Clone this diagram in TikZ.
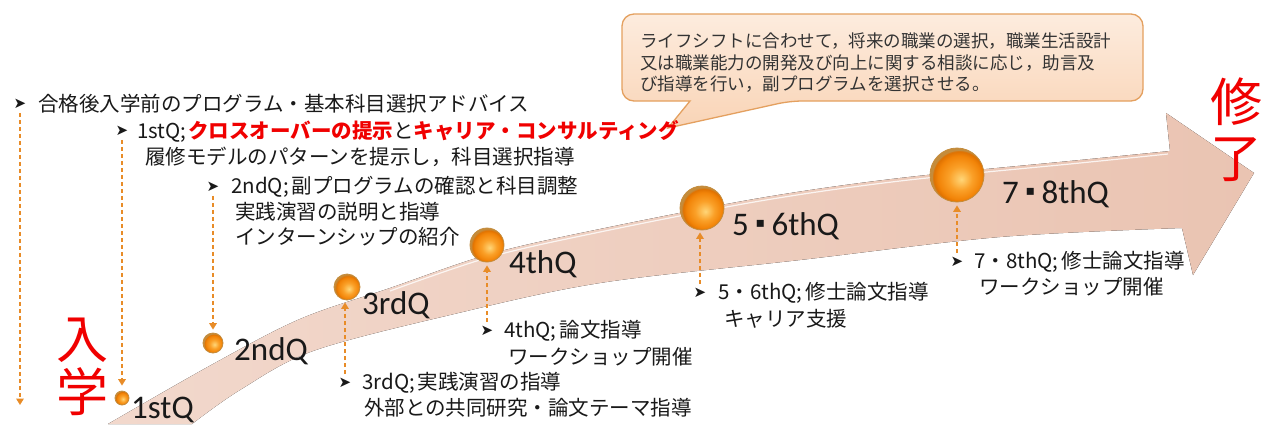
\documentclass[tikz,border=0pt]{standalone}
\usepackage{fontspec}
\setmainfont{Noto Sans CJK JP}
\newfontfamily\lat{Carlito}
\newfontfamily\sym{DejaVu Sans}
\usetikzlibrary{arrows.meta}
\definecolor{bandL}{RGB}{242,216,204}
\definecolor{bandR}{RGB}{234,196,178}
\definecolor{dorange}{RGB}{232,140,40}
\definecolor{orbHi}{RGB}{255,214,120}
\definecolor{orbMid}{RGB}{250,160,40}
\definecolor{orbMain}{RGB}{242,132,8}
\definecolor{orbEdge}{RGB}{222,112,0}
\definecolor{orbRim}{RGB}{196,140,60}
\definecolor{calfillT}{RGB}{253,236,222}
\definecolor{calfillB}{RGB}{249,212,182}
\definecolor{calborder}{RGB}{228,160,95}
\definecolor{txt}{RGB}{25,25,25}
\definecolor{jred}{RGB}{240,0,0}
\pgfdeclareradialshading{orb}{\pgfpoint{4bp}{-4bp}}{color(0bp)=(orbHi); color(11bp)=(orbMid); color(20bp)=(orbMain); color(24bp)=(orbEdge); color(25bp)=(orbRim); color(50bp)=(orbRim)}
\newcommand{\qdot}{\hspace{0.2em}\raisebox{0.22em}{\sym\fontsize{14}{14}\selectfont ▪}\hspace{0.2em}}
\begin{document}
\begin{tikzpicture}[x=1pt,y=-1pt,
  bul/.style={inner sep=0pt, font=\sym\fontsize{15}{15}\selectfont, text=txt},
  ln/.style={inner sep=0pt, anchor=west, font=\fontsize{20.5}{24}\selectfont, text=txt},
  qlab/.style={inner sep=0pt, anchor=base west, font=\lat\fontsize{33}{35}\selectfont, text=txt},
  ball/.style={circle, inner sep=0pt, shading=orb, draw=orbRim, line width=0.8pt},
  darr/.style={draw=dorange, line width=1.9pt, dash pattern=on 4.5pt off 2.5pt, -{Triangle[length=6.5pt,width=7.5pt]}},
  bigred/.style={inner sep=0pt, text=jred, font=\fontsize{52}{52}\selectfont},
  ctext/.style={inner sep=0pt, anchor=west, text=black!80, font=\fontsize{17.5}{20}\selectfont}
]
\useasboundingbox (0,0) rectangle (1264,424);
\fill[white] (0,0) rectangle (1264,424);

% big arrow band
\fill[left color=bandL, right color=bandR]
  plot[smooth,tension=0.55] coordinates {(108,424) (213,364) (300,319) (390,288) (490,254) (600,229) (760,198) (900,178) (1080,160) (1170,151)}
  -- (1166,113) -- (1254,173) -- (1193,275) -- (1182,228)
  -- plot[smooth,tension=0.55] coordinates {(1182,228) (1000,237) (800,260) (600,283) (450,315) (313,351) (240,390) (192,424)}
  -- cycle;
\draw[white, line width=1.2pt, opacity=0.8]
  plot[smooth,tension=0.55] coordinates {(390,291) (490,257) (600,232) (760,201) (900,181) (1080,163) (1168,154)};

% callout
\draw[draw=calborder, line width=1.3pt, top color=calfillT, bottom color=calfillB, rounded corners=12pt]
  (622,57) -- (622,14) -- (1143,14) -- (1143,101) -- (790,101) [sharp corners] -- (668,128) -- (690,101) [rounded corners=12pt] -- (622,101) -- cycle;
\node[ctext] (c1) at (640,41) {ライフシフトに合わせて，将来の職業の選択，職業生活設計};
\node[ctext] (c2) at (640,63) {又は職業能力の開発及び向上に関する相談に応じ，助言及};
\node[ctext] (c3) at (640,84) {び指導を行い，副プログラムを選択させる。};

% red labels
\node[bigred] (in1) at (82,340) {入};
\node[bigred] (in2) at (82,392) {学};
\node[bigred] (sh1) at (1236,102) {修};
\node[bigred] (sh2) at (1236,160) {了};

% balls
\node[ball, minimum size=14pt] (b1) at (122,398) {};
\node[ball, minimum size=20pt] (b2) at (213,343) {};
\node[ball, minimum size=26pt] (b3) at (347,287) {};
\node[ball, minimum size=34pt] (b4) at (487,245) {};
\node[ball, minimum size=44pt] (b5) at (702,208) {};
\node[ball, minimum size=54pt] (b6) at (957,175) {};

% quarter labels
\node[qlab] (q1) at (131,418) {1stQ};
\node[qlab] (q2) at (234,360) {2ndQ};
\node[qlab] (q3) at (362,314) {3rdQ};
\node[qlab] (q4) at (509,273) {4thQ};
\node[qlab] (q5) at (732,235) {5\qdot 6thQ};
\node[qlab] (q6) at (1002,203) {7\qdot 8thQ};

% text blocks
\node[bul] (u0) at (20,104) {➤};
\node[ln] (l0) at (38,104) {合格後入学前のプログラム・基本科目選択アドバイス};

\node[bul] (u1) at (122,131) {➤};
\node[ln] (l1a) at (137,131) {1stQ;\hspace{0.1em}{\color{jred}\bfseries クロスオーバーの提示}と{\color{jred}\bfseries キャリア・コンサルティング}};
\node[ln] (l1b) at (145,157) {履修モデルのパターンを提示し，科目選択指導};

\node[bul] (u2) at (213,187) {➤};
\node[ln] (l2a) at (231,187) {2ndQ;\hspace{0.15em}副プログラムの確認と科目調整};
\node[ln] (l2b) at (235,212) {実践演習の説明と指導};
\node[ln] (l2c) at (235,237) {インターンシップの紹介};

\node[bul] (u3) at (345,383) {➤};
\node[ln] (l3a) at (362,383) {3rdQ;\hspace{0.15em}実践演習の指導};
\node[ln] (l3b) at (364,408) {外部との共同研究・論文テーマ指導};

\node[bul] (u4) at (487,331) {➤};
\node[ln] (l4a) at (504,331) {4thQ;\hspace{0.15em}論文指導};
\node[ln] (l4b) at (508,357) {ワークショップ開催};

\node[bul] (u5) at (700,293) {➤};
\node[ln] (l5a) at (718,293) {5・6thQ;\hspace{0.15em}修士論文指導};
\node[ln] (l5b) at (724,319) {キャリア支援};

\node[bul] (u6) at (957,262) {➤};
\node[ln] (l6a) at (974,262) {7・8thQ;\hspace{0.15em}修士論文指導};
\node[ln] (l6b) at (979,287) {ワークショップ開催};

% dashed arrows
\coordinate (e0) at (20,405);
\draw[darr, shorten <=4pt] (u0.south) -- (e0);
\draw[darr, shorten <=4pt, shorten >=5pt] (u1.south) -- (b1.north);
\draw[darr, shorten <=4pt, shorten >=3pt] (u2.south) -- (b2.north);
\draw[darr, shorten <=4pt, shorten >=2pt] (u3.north) -- (u3.north |- b3.south);
\draw[darr, shorten <=4pt, shorten >=3pt] (u4.north) -- (u4.north |- b4.south);
\draw[darr, shorten <=4pt, shorten >=2pt] (u5.north) -- (u5.north |- b5.south);
\draw[darr, shorten <=4pt, shorten >=3pt] (u6.north) -- (u6.north |- b6.south);
\end{tikzpicture}
\end{document}
